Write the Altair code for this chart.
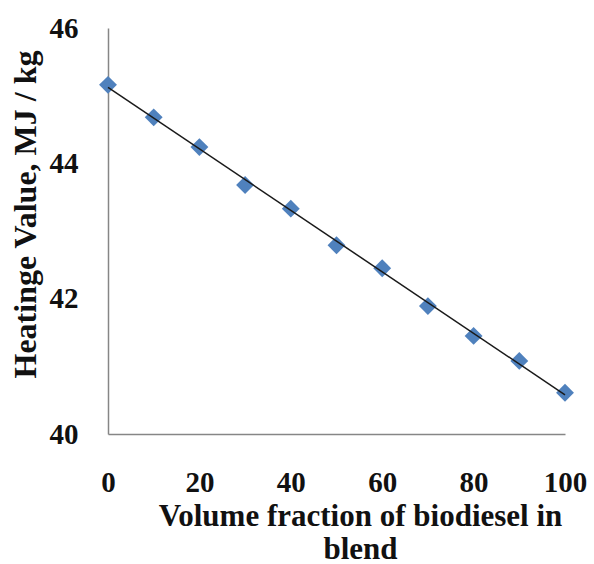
import altair as alt
import pandas as pd

fraction = [0, 10, 20, 30, 40, 50, 60, 70, 80, 90, 100]
heating_value = [45.16, 44.68, 44.24, 43.68, 43.33, 42.79, 42.45, 41.89, 41.45, 41.08, 40.61]
x_ticks = [0, 20, 40, 60, 80, 100]
y_ticks = [40, 42, 44, 46]

df = pd.DataFrame({"fraction": fraction, "hv": heating_value})

FONT = "Liberation Serif"

x_enc = alt.X(
    "fraction:Q",
    scale=alt.Scale(domain=[0, 100], nice=False, zero=False),
    axis=alt.Axis(
        values=x_ticks,
        title=["Volume fraction of biodiesel in", "blend"],
        grid=False,
        ticks=False,
        tickSize=0,
        domainColor="#868686",
        domainWidth=1.5,
        labelFont=FONT,
        labelFontSize=29,
        labelFontWeight="bold",
        labelColor="#111111",
        labelPadding=34,
        labelFlush=False,
        titleFont=FONT,
        titleFontSize=31,
        titleFontWeight="bold",
        titleColor="#111111",
        titleX=252,
        titleY=91,
        titleAlign="center",
        titleBaseline="alphabetic",
        titleLineHeight=33,
    ),
)

y_enc = alt.Y(
    "hv:Q",
    scale=alt.Scale(domain=[40, 46], nice=False, zero=False),
    axis=alt.Axis(
        values=y_ticks,
        title="Heatinge Value, MJ / kg",
        grid=False,
        ticks=False,
        tickSize=0,
        domainColor="#868686",
        domainWidth=1.5,
        labelFont=FONT,
        labelFontSize=29,
        labelFontWeight="bold",
        labelColor="#111111",
        labelPadding=30,
        labelFlush=False,
        titleFont=FONT,
        titleFontSize=32,
        titleFontWeight="bold",
        titleColor="#111111",
        titleAngle=270,
        titleX=-73,
        titleY=186,
        titleAlign="center",
        titleBaseline="alphabetic",
    ),
)

base = alt.Chart(df)

points = base.mark_point(
    shape="diamond", filled=True, size=320, color="#4F81BD", opacity=1
).encode(x=x_enc, y=y_enc)

trend = base.transform_regression(
    "fraction", "hv", extent=[0, 100]
).mark_line(color="#1a1a1a", strokeWidth=1.5).encode(x=x_enc, y=y_enc)

chart = (
    alt.layer(points, trend)
    .properties(
        width=457,
        height=406,
        autosize=alt.AutoSizeParams(type="none"),
        padding={"left": 108, "top": 28, "right": 29, "bottom": 130},
        background="white",
    )
    .configure_view(stroke=None)
)

chart.save("out.html", embed_options={"renderer": "svg", "actions": False})
